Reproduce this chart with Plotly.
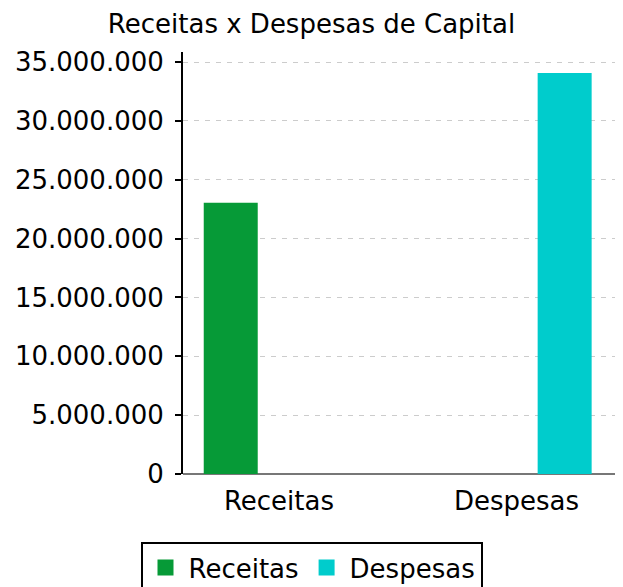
import plotly.graph_objects as go

categories = ["Receitas", "Despesas"]
receitas = [23050000, None]
despesas = [None, 34070000]
series_names = ["Receitas", "Despesas"]
colors = ["#069A37", "#00CCCC"]
title = "Receitas x Despesas de Capital"

fig = go.Figure()
for name, vals, col in zip(series_names, [receitas, despesas], colors):
    fig.add_trace(go.Bar(x=categories, y=vals, name=name, showlegend=False,
                         marker=dict(color=col, line=dict(width=0))))
# legend entries with larger square swatches
for name, col in zip(series_names, colors):
    fig.add_trace(go.Scatter(x=[None], y=[None], name=name, mode="markers",
                             marker=dict(symbol="square", size=22, color=col)))

font = "DejaVu Sans"
fig.update_layout(
    width=623, height=587,
    barmode="group", bargap=0.188, bargroupgap=0.44,
    separators=",.",
    paper_bgcolor="white", plot_bgcolor="white",
    font=dict(family=font, size=26, color="black"),
    title=dict(text=title, x=0.5, xref="container", xanchor="center", y=0.96, yref="container",
               yanchor="middle", font=dict(family=font, size=26, color="black")),
    margin=dict(l=183, r=8, t=52, b=113, autoexpand=False),
    showlegend=True,
    legend=dict(orientation="h", x=0.5, xref="container", xanchor="center",
                y=1 - 542 / 587, yref="container", yanchor="top",
                bordercolor="black", borderwidth=2, font=dict(size=26),
                itemwidth=36, tracegroupgap=0),
    xaxis=dict(range=[-0.404, 1.415], showgrid=False, ticks="", showline=False,
               ticklabelstandoff=9, automargin=False, tickfont=dict(size=26)),
    yaxis=dict(range=[0, 35850000], dtick=5000000, tick0=0, tickformat=",d",
               showgrid=True, gridcolor="#cccccc", griddash="5px,6px", gridwidth=1.3,
               showline=True, linecolor="black", linewidth=2,
               ticks="outside", ticklen=6, tickwidth=2, tickcolor="black",
               ticklabelstandoff=6, automargin=False,
               zeroline=True, zerolinecolor="#777777", zerolinewidth=2,
               tickfont=dict(size=26)),
)
fig.write_html("out.html", config={"displayModeBar": False},
               post_script="document.body.style.margin='0';document.body.style.padding='0';")
